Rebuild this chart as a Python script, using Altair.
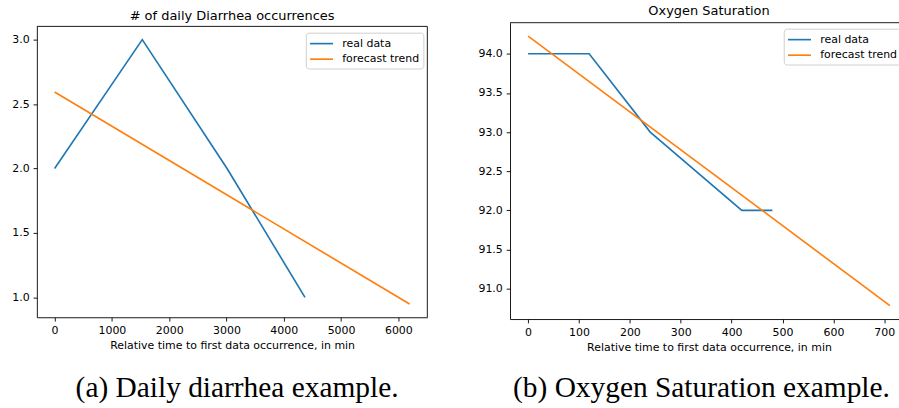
import altair as alt
import pandas as pd

# Daily diarrhea counts (minutes since first occurrence)
diarrhea_time = [0, 1530, 3010, 4370]
diarrhea_count = [2, 3, 2, 1]
diarrhea_trend_time = [0, 6196]
diarrhea_trend_value = [2.593, 0.948]

# Oxygen saturation readings
oxygen_time = [0, 120, 240, 420, 480]
oxygen_value = [94, 94, 93, 92, 92]
oxygen_trend_time = [0, 711]
oxygen_trend_value = [94.225, 90.784]

series_names = ["real data", "forecast trend"]
series_colors = ["#1f77b4", "#ff7f0e"]

panel_titles = ["# of daily Diarrhea occurrences", "Oxygen Saturation"]
x_title = "Relative time to first data occurrence, in min"
captions = ["(a) Daily diarrhea example.", "(b) Oxygen Saturation example."]

x_ticks_a = [0, 1000, 2000, 3000, 4000, 5000, 6000]
y_ticks_a = [1.0, 1.5, 2.0, 2.5, 3.0]
x_ticks_b = [0, 100, 200, 300, 400, 500, 600, 700]
y_ticks_b = [91.0, 91.5, 92.0, 92.5, 93.0, 93.5, 94.0]

SANS = "DejaVu Sans"
LEGEND_PATH = "M-1.12,0L2.72,0"
EDGE = "#000000"


def frame(t, v, tt, tv):
    real = pd.DataFrame({"t": t, "v": v, "series": series_names[0]})
    trend = pd.DataFrame({"t": tt, "v": tv, "series": series_names[1]})
    return pd.concat([real, trend], ignore_index=True)


def padded(values, frac=0.05):
    lo, hi = min(values), max(values)
    m = (hi - lo) * frac
    return [lo - m, hi + m]


def panel(df, title, title_dy, xticks, yticks, width, height, top,
          legend_x, legend_y, caption, cap_x, cap_y):
    color = alt.Color(
        "series:N",
        scale=alt.Scale(domain=series_names, range=series_colors),
        sort=series_names,
        legend=alt.Legend(
            title=None,
            orient="none",
            legendX=legend_x,
            legendY=legend_y,
            padding=4,
            strokeColor="#d0d0d0",
            fillColor="white",
            cornerRadius=3,
            symbolType=LEGEND_PATH,
            symbolSize=144,
            symbolStrokeWidth=1.65,
            labelFont=SANS,
            labelFontSize=11,
            labelColor="#000000",
            labelOffset=18.6,
            rowPadding=3.6,
        ),
    )
    lines = alt.Chart(df).mark_line(strokeWidth=1.65).encode(
        x=alt.X(
            "t:Q",
            scale=alt.Scale(domain=padded(df["t"].tolist()), nice=False, zero=False),
            axis=alt.Axis(values=xticks, format="d", title=x_title),
        ),
        y=alt.Y(
            "v:Q",
            scale=alt.Scale(domain=padded(df["v"].tolist()), nice=False,
                            zero=False, range=[height, top]),
            axis=alt.Axis(values=yticks, format=".1f", title=None),
        ),
        color=color,
    )
    one = pd.DataFrame({"k": [0]})
    # top and right edges of the plot frame (left/bottom come from the axis domains)
    top_edge = alt.Chart(one).mark_rule(color=EDGE, strokeWidth=0.9).encode(
        x=alt.value(0), x2=alt.value(width), y=alt.value(top)
    )
    right_edge = alt.Chart(one).mark_rule(color=EDGE, strokeWidth=0.9).encode(
        x=alt.value(width), y=alt.value(top), y2=alt.value(height)
    )
    cap = alt.Chart(pd.DataFrame({"caption": [caption]})).mark_text(
        font="Liberation Serif",
        fontSize=29.5,
        align="center",
        baseline="alphabetic",
        color="#000000",
    ).encode(text="caption:N", x=alt.value(cap_x), y=alt.value(cap_y))
    return alt.layer(top_edge, right_edge, lines, cap).properties(
        width=width,
        height=height,
        title=alt.TitleParams(
            text=title,
            font=SANS,
            fontSize=13,
            fontWeight="normal",
            color="#000000",
            frame="group",
            anchor="middle",
            offset=4,
            dy=title_dy,
        ),
    )


left = panel(
    frame(diarrhea_time, diarrhea_count, diarrhea_trend_time, diarrhea_trend_value),
    panel_titles[0], 4.4,
    x_ticks_a, y_ticks_a, 392, 295.7, 3.7,
    270, 10,
    captions[0], 201, 375.4,
)
right = panel(
    frame(oxygen_time, oxygen_value, oxygen_trend_time, oxygen_trend_value),
    panel_titles[1], 0,
    x_ticks_b, y_ticks_b, 399.5, 297.5, 0,
    274.8, 6,
    captions[1], 192.2, 375.4,
)

chart = alt.hconcat(left, right, spacing=49).resolve_scale(
    color="independent"
).resolve_legend(
    color="independent"
).properties(
    padding={"left": 11, "top": 4, "right": -10.5, "bottom": 0},
    background="white",
).configure_view(
    stroke="transparent"
).configure_axis(
    grid=False,
    domain=True,
    domainColor=EDGE,
    domainWidth=0.9,
    labelFont=SANS,
    labelFontSize=11,
    labelColor="#000000",
    labelPadding=3.9,
    tickColor="#000000",
    tickSize=3.85,
    tickWidth=0.9,
    titleFont=SANS,
    titleFontSize=11,
    titleFontWeight="normal",
    titleColor="#000000",
    titlePadding=3.5,
)

chart.save("out.html", embed_options={"renderer": "svg", "actions": False})
